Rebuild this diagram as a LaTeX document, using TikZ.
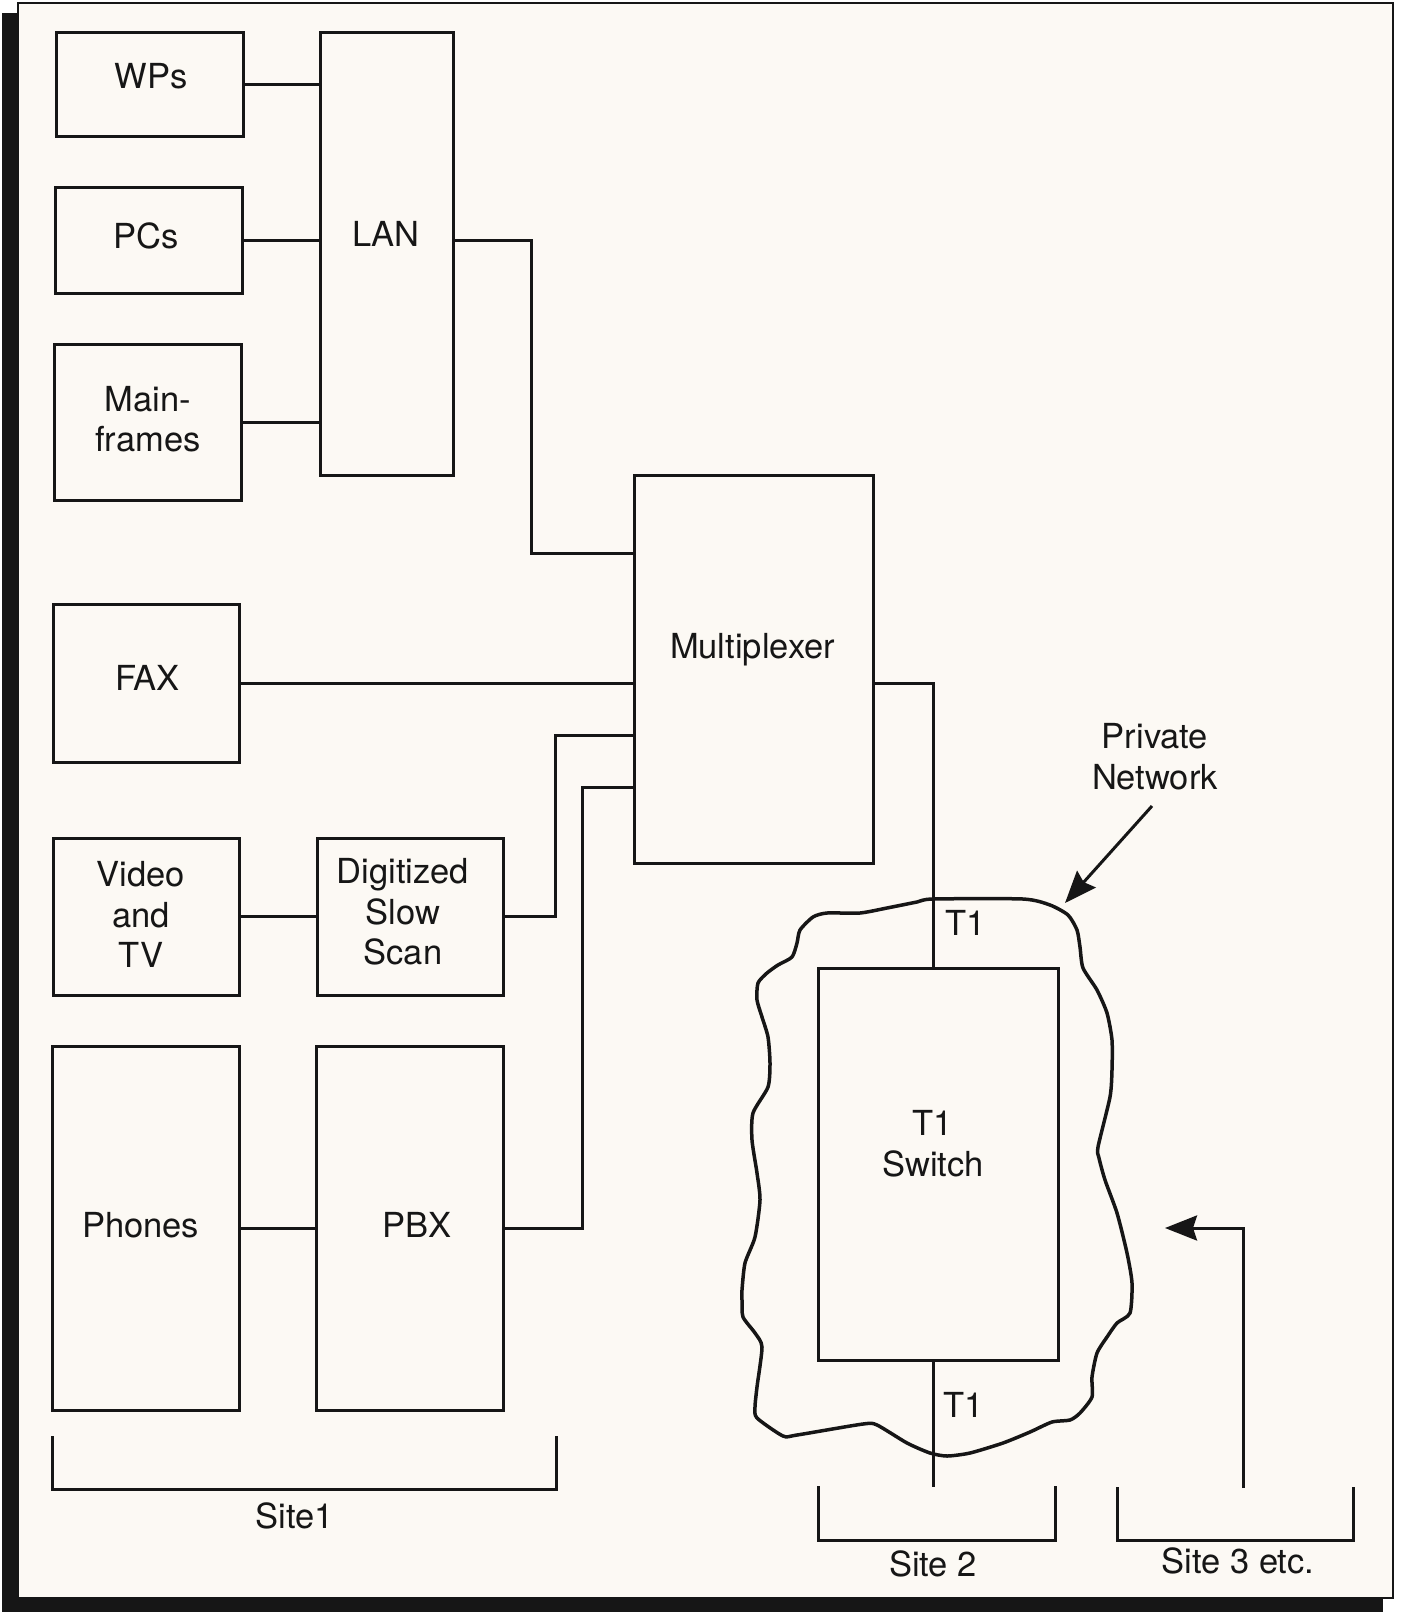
\documentclass[tikz,border=0pt]{standalone}
\usepackage{fontspec}
\setmainfont{TeX Gyre Heros}
\usetikzlibrary{arrows.meta}
\definecolor{paper}{RGB}{252,249,244}
\definecolor{ink}{RGB}{22,22,22}
\begin{document}
\begin{tikzpicture}[x=1pt,y=-1pt,
  box/.style={draw=ink, line width=3pt, inner sep=0pt, outer sep=0pt},
  lbl/.style={font=\fontsize{34.5}{40.5}\selectfont, align=center, text=ink, inner sep=0pt, text depth=0pt},
  wire/.style={draw=ink, line width=3pt},
  tip/.style={-{Stealth[length=32pt,width=25pt,inset=4pt]}}]
% page and frame
\fill[white] (0,0) rectangle (1403,1612);
\useasboundingbox (0,0) rectangle (1403,1612);
\fill[ink] (2,13) rectangle (1383,1612);
\filldraw[fill=paper, draw=ink, line width=2.5pt] (18,3) rectangle (1393,1598);

% boxes
\node[box, minimum width=187pt, minimum height=104pt] (wps) at (149.5,84) {};
\node[box, minimum width=187pt, minimum height=106pt] (pcs) at (148.5,240) {};
\node[box, minimum width=187pt, minimum height=156pt] (mf) at (147.5,422) {};
\node[box, minimum width=133pt, minimum height=443pt] (lan) at (386.5,253.5) {};
\node[box, minimum width=186pt, minimum height=158pt] (fax) at (146,683) {};
\node[box, minimum width=186pt, minimum height=157pt] (vid) at (146,916.5) {};
\node[box, minimum width=186pt, minimum height=157pt] (dss) at (410,916.5) {};
\node[box, minimum width=187pt, minimum height=364pt] (ph) at (145.5,1228) {};
\node[box, minimum width=187pt, minimum height=364pt] (pbx) at (409.5,1228) {};
\node[box, minimum width=239pt, minimum height=388pt] (mux) at (753.5,669) {};
\node[box, minimum width=240pt, minimum height=392pt] (sw) at (938,1164) {};

% box texts
\node[lbl] (wpst) at (151,76) {WPs};
\node[lbl] (pcst) at (146,236) {PCs};
\node[lbl] (mft) at (148,419) {Main-\\frames};
\node[lbl] (lant) at (386,234) {LAN};
\node[lbl] (faxt) at (147.5,678) {FAX};
\node[lbl] (vidt) at (141,914.5) {Video\\and\\TV};
\node[lbl] (dsst) at (403,911.5) {Digitized\\Slow\\Scan};
\node[lbl] (pht) at (140.5,1225) {Phones};
\node[lbl] (pbxt) at (417,1225) {PBX};
\node[lbl] (muxt) at (752.5,646) {Multiplexer};
\node[lbl] (swt) at (933,1143.5) {T1\\Switch};

% connectors
\draw[wire] (wps.east) -- (wps.east -| lan.west);
\draw[wire] (pcs.east) -- (pcs.east -| lan.west);
\draw[wire] (mf.east) -- (mf.east -| lan.west);
\coordinate (lanbend) at (531,553);
\draw[wire] (lan.east |- pcs.east) -| (lanbend) -- (lanbend -| mux.west);
\draw[wire] (fax.east) -- (fax.east -| mux.west);
\draw[wire] (vid.east) -- (dss.west);
\coordinate (dssbend) at (555,735);
\draw[wire] (dss.east) -| (dssbend) -- (dssbend -| mux.west);
\draw[wire] (ph.east) -- (pbx.west);
\coordinate (pbxbend) at (582,787);
\draw[wire] (pbx.east) -| (pbxbend) -- (pbxbend -| mux.west);
\coordinate (muxbend) at (933,683);
\draw[wire] (muxbend -| mux.east) -- (muxbend) -- (muxbend |- sw.north);
\coordinate (s2end) at (933,1487);
\draw[wire] (s2end |- sw.south) -- (s2end);

% private network cloud
\draw[ink, line width=3.5pt, line join=round] plot[smooth cycle, tension=0.4] coordinates {
(933,899) (1023,899) (1050,905) (1068,915) (1077,930) (1080,947) (1083,968)
(1097,990) (1107,1013) (1112,1040) (1112,1070) (1110,1097) (1098,1147) (1099,1158)
(1105,1180) (1117,1213) (1127,1253) (1132,1283) (1130,1313) (1117,1323)
(1107,1337) (1097,1353) (1092,1377) (1092,1397) (1080,1413) (1070,1420)
(1052,1422) (1030,1432) (1003,1443) (970,1453) (947,1456) (930,1453)
(907,1443) (877,1425) (863,1424) (797,1435) (783,1436) (757,1418) (755,1407)
(757,1387) (762,1347) (755,1333) (743,1317) (742,1300) (742,1290) (745,1263)
(755,1237) (760,1200) (757,1173) (752,1140) (753,1113) (768,1087) (770,1063)
(768,1037) (762,1017) (757,1000) (758,983) (767,973) (778,965) (792,957)
(797,943) (800,930) (813,917) (827,913) (860,913) (887,908) (917,902)};

% T1 labels
\node[lbl] (t1a) at (966,923) {T1};
\node[lbl] (t1b) at (964,1405) {T1};

% private network label and arrow
\node[lbl] (pn) at (1155,756.5) {Private\\Network};
\coordinate (pnstart) at (1152,806);
\coordinate (pntip) at (1065,903);
\draw[wire, tip] (pnstart) -- (pntip);

% site 3 arrow
\coordinate (s3from) at (1243,1488);
\coordinate (s3tip) at (1165,1228);
\draw[wire, tip] (s3from) |- (s3tip);

% brackets
\coordinate (b1a) at (52,1436);
\coordinate (b1b) at (556,1436);
\draw[wire] (b1a) -- ++(0,53) -| (b1b);
\coordinate (b2a) at (818,1486);
\coordinate (b2b) at (1055,1486);
\draw[wire] (b2a) -- ++(0,54) -| (b2b);
\coordinate (b3a) at (1117,1487);
\coordinate (b3b) at (1353,1487);
\draw[wire] (b3a) -- ++(0,53) -| (b3b);

\node[lbl] (site1) at (295,1516) {Site1};
\node[lbl] (site2) at (933,1564) {Site 2};
\node[lbl] (site3) at (1238,1561) {Site 3 etc.};
\end{tikzpicture}
\end{document}
